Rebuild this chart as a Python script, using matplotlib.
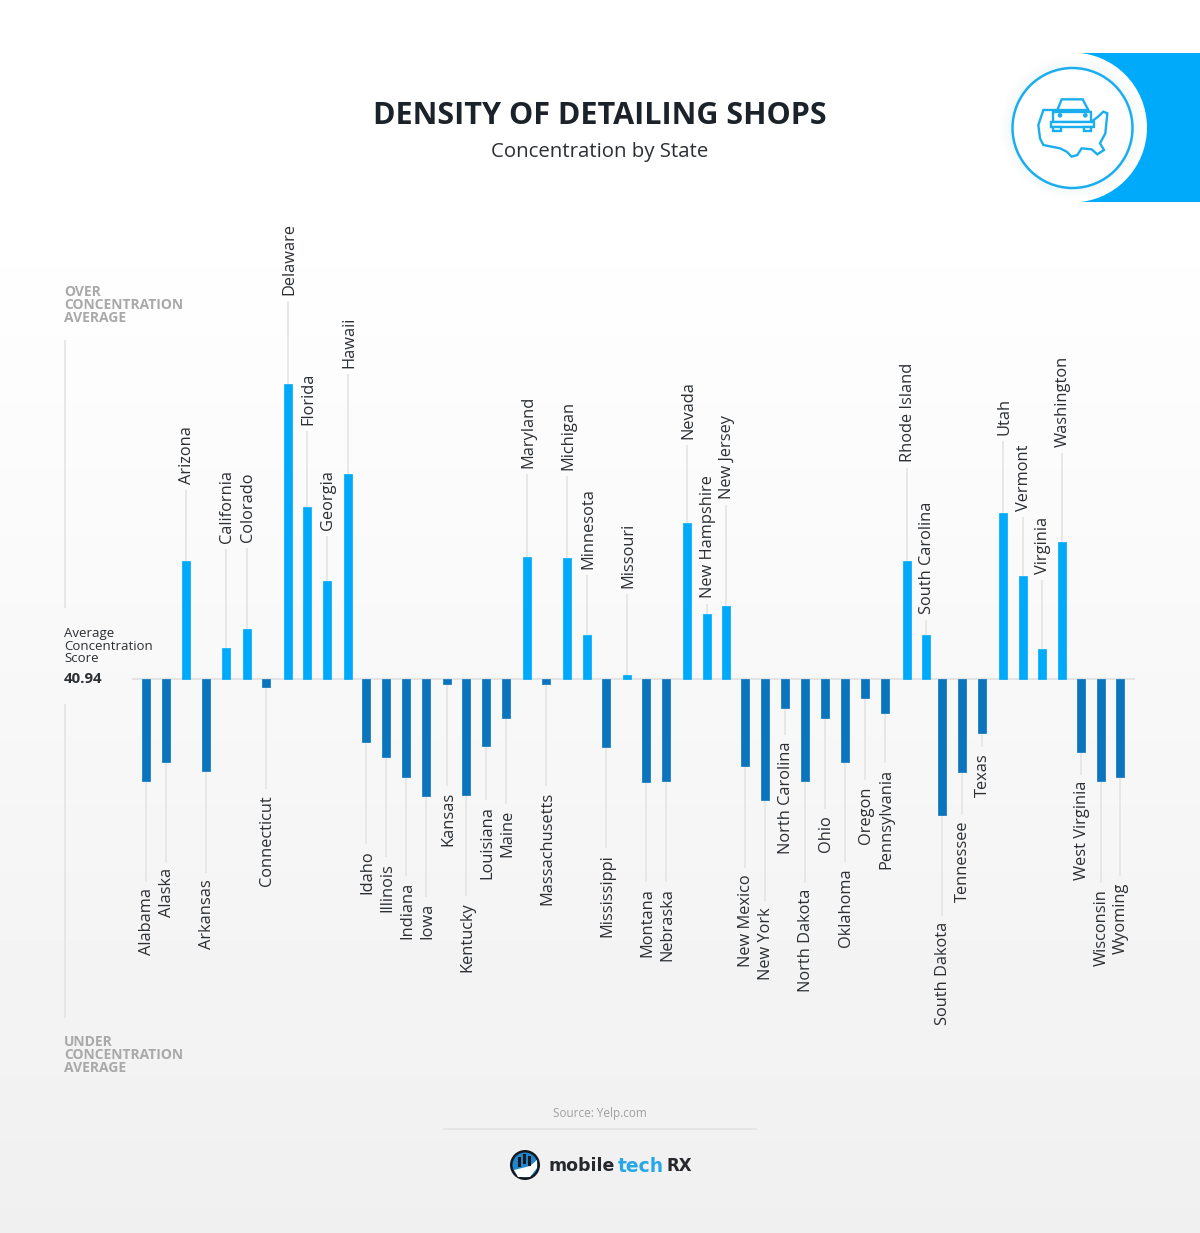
import numpy as np
import matplotlib
matplotlib.use("Agg")
import matplotlib.pyplot as plt
from matplotlib.patches import Circle, Rectangle, Polygon

plt.rcParams["font.family"] = ["Open Sans", "DejaVu Sans"]

states = ["Alabama", "Alaska", "Arizona", "Arkansas", "California", "Colorado", "Connecticut",
          "Delaware", "Florida", "Georgia", "Hawaii", "Idaho", "Illinois", "Indiana", "Iowa",
          "Kansas", "Kentucky", "Louisiana", "Maine", "Maryland", "Massachusetts", "Michigan",
          "Minnesota", "Mississippi", "Missouri", "Montana", "Nebraska", "Nevada",
          "New Hampshire", "New Jersey", "New Mexico", "New York", "North Carolina",
          "North Dakota", "Ohio", "Oklahoma", "Oregon", "Pennsylvania", "Rhode Island",
          "South Carolina", "South Dakota", "Tennessee", "Texas", "Utah", "Vermont", "Virginia",
          "Washington", "West Virginia", "Wisconsin", "Wyoming"]

# distance from the average
deviation = [-102, -83, 118, -92, 31, 50, -8, 295, 172, 98, 205, -63, -78, -98, -117,
             -5, -116, -67, -39, 122, -5, 121, 44, -68, 4, -103, -102, 156, 65, 73,
             -87, -121, -29, -102, -39, -83, -19, -34, 118, 44, -136, -93, -54, 166,
             103, 30, 137, -73, -102, -98]

# layout: the columns are not evenly spaced in the reference
column_x = [146, 166, 186, 206, 226, 247, 266, 288, 307, 327, 348, 366, 386, 406, 426,
            447, 466, 486, 506, 527, 546, 567, 587, 606, 627, 646, 666, 687, 707, 726,
            745, 765, 785, 805, 825, 845, 865, 885, 907, 926, 942, 962, 982, 1003,
            1023, 1042, 1062, 1081, 1101, 1120]

# how far from the baseline each state name starts
label_reach = [209, 189, 195, 200, 136, 137, 116, 384, 254, 149, 311, 171, 184, 203, 224,
               113, 223, 127, 131, 211, 113, 209, 110, 175, 91, 209, 209, 240, 81, 180,
               195, 228, 62, 210, 136, 189, 107, 90, 217, 65, 243, 141, 74, 244,
               168, 105, 232, 102, 210, 203]

UP = "#00aafa"
DOWN = "#0a74bd"
GRID = "#e4e4e4"
INK = "#2b2f33"

W, H = 1200, 1233
BASE = 679

fig = plt.figure(figsize=(W / 100, H / 100), dpi=100)

# pixel-space axes for the page furniture
page = fig.add_axes([0, 0, 1, 1])
page.set_xlim(0, W)
page.set_ylim(H, 0)
page.axis("off")

grad = np.ones((H, 1))
grad[200:, 0] = np.linspace(1, 0, H - 200)
grad = 0.94 + 0.06 * grad
page.imshow(grad, cmap="gray", vmin=0, vmax=1, extent=[0, W, H, 0], aspect="auto", zorder=0)

# bars live in their own axes, 1 unit of deviation = 1 px
ax = fig.add_axes([0, 0, 1, 1], facecolor="none")
ax.set_xlim(0, W)
ax.set_ylim(BASE - H, BASE)
ax.axis("off")

x = np.array(column_x)
vals = np.array(deviation)
reach = np.array(label_reach)
sign = np.sign(vals)

ax.hlines(0, 132, 1135, color=GRID, lw=1.5, zorder=1)
ax.vlines(x, vals, sign * (reach - 6), color=GRID, lw=1.2, zorder=1)
colors = [UP if v > 0 else DOWN for v in vals]
ax.bar(x, vals, width=8.5, color=colors, edgecolor=colors, lw=0.5, joinstyle="round", zorder=2)

for i, name in enumerate(states):
    ax.text(x[i] + 1, sign[i] * reach[i], name, rotation=90, ha="center",
            va="bottom" if vals[i] > 0 else "top", fontsize=11.8, color=INK, zorder=3)

# titles
page.text(600, 116, "DENSITY OF DETAILING SHOPS", ha="center", va="center",
          fontsize=22, fontweight="bold", color="#1c2229")
page.text(600, 152, "Concentration by State", ha="center", va="center",
          fontsize=14.7, color=INK)

# left hand scale
page.text(64, 305, "OVER\nCONCENTRATION\nAVERAGE", ha="left", va="center", fontsize=10,
          fontweight="bold", color="#a9a9a9", linespacing=0.95)
page.text(64, 1055, "UNDER\nCONCENTRATION\nAVERAGE", ha="left", va="center", fontsize=10,
          fontweight="bold", color="#a9a9a9", linespacing=0.95)
page.vlines(65, 340, 608, color=GRID, lw=1.2)
page.vlines(65, 704, 1018, color=GRID, lw=1.2)
page.text(64, 646, "Average\nConcentration\nScore", ha="left", va="center", fontsize=9.5,
          color=INK, linespacing=0.95)
page.text(64, 679, "40.94", ha="left", va="center", fontsize=10.8, fontweight="bold", color=INK)

# corner badge
page.add_patch(Rectangle((1075, 53), 125, 149, color=UP, lw=0, zorder=2))
page.add_patch(Circle((1072, 127.5), 75, color="white", lw=0, zorder=3))
for r, a in zip(range(72, 62, -2), np.linspace(0.01, 0.05, 5)):
    page.add_patch(Circle((1072, 127.5), r, color="#bfe6fa", alpha=a, lw=0, zorder=3))
page.add_patch(Circle((1072.5, 128), 60, fc="white", ec="#1aaeee", lw=1.8, zorder=4))


def icon(points):
    return [(960 + a / 3, 30 + b / 3) for a, b in points]


usa = [(250, 240), (292, 240), (292, 278), (385, 278), (398, 272), (412, 262), (430, 245),
       (442, 250), (436, 310), (420, 340), (432, 360), (412, 373), (395, 358), (365, 355),
       (352, 375), (335, 380), (320, 365), (300, 355), (250, 345), (240, 325), (235, 285)]
page.add_patch(Polygon(icon(usa), closed=True, fc="white", ec="#1aaeee", lw=1.7, zorder=5))
roof = [(292, 240), (305, 208), (368, 208), (385, 240)]
page.add_patch(Polygon(icon(roof), closed=True, fc="white", ec="#1aaeee", lw=1.7, zorder=6))
body = [(278, 245), (392, 245), (392, 275), (278, 275)]
page.add_patch(Polygon(icon(body), closed=True, fc="white", ec="#1aaeee", lw=1.7, zorder=6))
bump = [(274, 276), (402, 276), (402, 290), (274, 290)]
page.add_patch(Polygon(icon(bump), closed=True, fc="white", ec="#1aaeee", lw=1.7, zorder=6))
for a in (280, 372):
    page.add_patch(Polygon(icon([(a, 290), (a + 22, 290), (a + 22, 304), (a, 304)]), closed=True,
                           fc="white", ec="#1aaeee", lw=1.7, zorder=6))
for a in (300, 376):
    page.add_patch(Circle(icon([(a, 256)])[0], 1.6, color="#1aaeee", zorder=7))

# source and logo
page.text(600, 1113, "Source: Yelp.com", ha="center", va="center", fontsize=8.5, color="#a0a0a0")
page.hlines(1129, 443, 757, color="#e3e3e3", lw=1.2)

page.add_patch(Circle((525, 1165), 15, color="#15181c", lw=0, zorder=3))
page.add_patch(Circle((525, 1165), 12.5, color="#1f86d0", lw=0, zorder=3))
page.add_patch(Polygon([(514, 1170), (530, 1166), (537, 1160), (537, 1168), (530, 1177), (518, 1177)],
                       closed=True, color="white", lw=0, zorder=4))
for a, top in zip((518, 523, 528), (1157, 1154, 1156)):
    page.add_patch(Rectangle((a, top), 2.5, 10, color="#15181c", lw=0, zorder=4))

logo_kw = dict(ha="left", va="center", fontweight="bold", family="DejaVu Sans")
page.text(549, 1166, "mobile", color="#25282c", fontsize=12.5, **logo_kw)
page.text(618, 1166, "tech", color="#27a7e6", fontsize=13.5, **logo_kw)
page.text(667, 1166, "RX", color="#25282c", fontsize=12, **logo_kw)

fig.savefig("out.png", dpi=100)
